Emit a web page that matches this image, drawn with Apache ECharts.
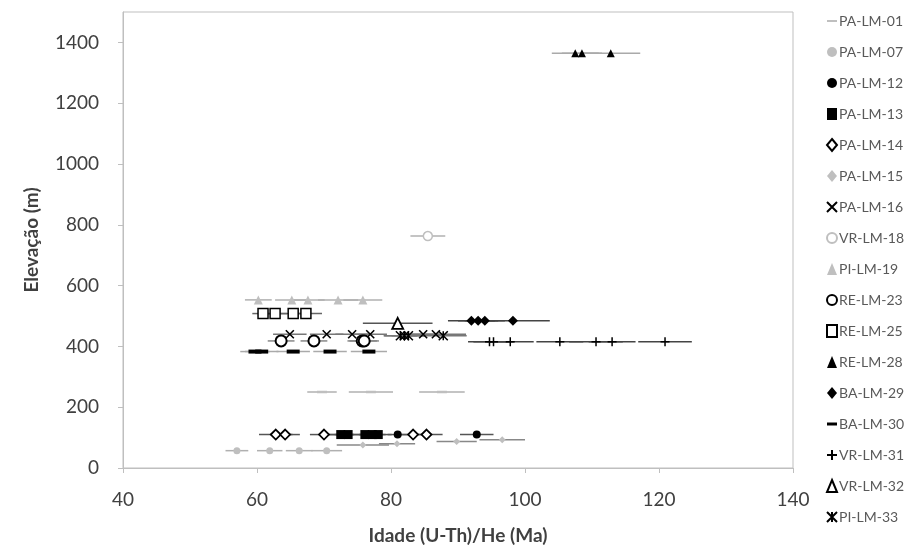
<!DOCTYPE html>
<html>
<head>
<meta charset="utf-8">
<script src="https://cdn.jsdelivr.net/npm/echarts@6/dist/echarts.min.js"></script>
<style>
html,body{margin:0;padding:0;background:#fff;}
#chart{width:918px;height:551px;}
</style>
</head>
<body>
<div id="chart"></div>
<script>
// ---- Data (ages in Ma, horizontal errors in Ma, elevation in m) ----
const xTicks = [40, 60, 80, 100, 120, 140];
const yTicks = [0, 200, 400, 600, 800, 1000, 1200, 1400];

const sampleNames = ['PA-LM-01','PA-LM-07','PA-LM-12','PA-LM-13','PA-LM-14','PA-LM-15','PA-LM-16','VR-LM-18','PI-LM-19','RE-LM-23','RE-LM-25','RE-LM-28','BA-LM-29','BA-LM-30','VR-LM-31','VR-LM-32','PI-LM-33'];
const elevations = [250, 57, 110, 110, 110, [76, 80, 87, 93], 440, 763, 553, 418, 508, 1364, 484, 383, 415, 476, 435];

const age_PA_LM_01 = [69.7, 77.0, 87.6];
const err_PA_LM_01 = [2.2, 3.3, 3.4];
const age_PA_LM_07 = [57.0, 61.9, 66.3, 70.4];
const err_PA_LM_07 = [1.7, 1.9, 2.0, 2.3];
const age_PA_LM_12 = [81.0, 92.8];
const err_PA_LM_12 = [1.5, 2.5];
const age_PA_LM_13 = [72.5, 73.6, 76.1, 77.2, 78.1];
const err_PA_LM_13 = [2.0, 2.0, 2.0, 2.0, 2.0];
const age_PA_LM_14 = [62.8, 64.2, 70.0, 83.3, 85.3];
const err_PA_LM_14 = [2.5, 2.2, 2.1, 2.0, 2.4];
const age_PA_LM_15 = [75.8, 80.9, 89.8, 96.6];
const err_PA_LM_15 = [3.9, 2.7, 3.0, 3.4];
const age_PA_LM_16 = [64.9, 70.4, 74.2, 76.9, 84.8, 86.7];
const err_PA_LM_16 = [2.5, 2.5, 2.5, 2.5, 2.5, 4.5];
const age_VR_LM_18 = [85.5];
const err_VR_LM_18 = [2.6];
const age_PI_LM_19 = [60.2, 65.2, 67.6, 72.1, 75.8];
const err_PI_LM_19 = [2.0, 2.5, 2.5, 3.0, 2.9];
const age_RE_LM_23 = [63.6, 68.5, 75.7, 76.0];
const err_RE_LM_23 = [2.0, 2.0, 2.2, 2.2];
const age_RE_LM_25 = [60.9, 62.7, 65.4, 67.3];
const err_RE_LM_25 = [1.6, 1.8, 2.0, 2.4];
const age_RE_LM_28 = [107.5, 108.5, 112.8];
const err_RE_LM_28 = [3.5, 3.0, 4.4];
const age_BA_LM_29 = [92.0, 93.0, 94.0, 98.2];
const err_BA_LM_29 = [3.5, 3.0, 3.0, 5.5];
const age_BA_LM_30 = [59.7, 60.7, 65.4, 70.9, 76.7];
const err_BA_LM_30 = [2.2, 2.5, 2.5, 2.5, 2.7];
const age_VR_LM_31 = [94.7, 95.3, 97.8, 105.2, 110.6, 113.0, 120.9];
const err_VR_LM_31 = [3.2, 3.0, 3.5, 3.5, 4.0, 3.5, 4.0];
const age_VR_LM_32 = [81.0];
const err_VR_LM_32 = [5.2];
const age_PI_LM_33 = [81.4, 82.0, 82.6, 87.8];
const err_PI_LM_33 = [2.5, 3.0, 2.5, 3.5];

const ages = [age_PA_LM_01, age_PA_LM_07, age_PA_LM_12, age_PA_LM_13, age_PA_LM_14, age_PA_LM_15, age_PA_LM_16, age_VR_LM_18, age_PI_LM_19, age_RE_LM_23, age_RE_LM_25, age_RE_LM_28, age_BA_LM_29, age_BA_LM_30, age_VR_LM_31, age_VR_LM_32, age_PI_LM_33];
const errs = [err_PA_LM_01, err_PA_LM_07, err_PA_LM_12, err_PA_LM_13, err_PA_LM_14, err_PA_LM_15, err_PA_LM_16, err_VR_LM_18, err_PI_LM_19, err_RE_LM_23, err_RE_LM_25, err_RE_LM_28, err_BA_LM_29, err_BA_LM_30, err_VR_LM_31, err_VR_LM_32, err_PI_LM_33];

// ---- Styles ----
const G = '#bfbfbf';
const K = '#000000';
const X_PATH = 'path://M0,0L10,10M10,0L0,10';
const PLUS_PATH = 'path://M5,0L5,10M0,5L10,5';
const STAR_PATH = 'path://M0,0L10,10M10,0L0,10M5,0L5,10';
const styles = [
  {symbol:'rect', size:[10,2.5], item:{color:G}, err:'#b0b0b0', icon:'path://M0,4L10,4L10,6L0,6Z'},
  {symbol:'circle', size:7, item:{color:G}, err:'#b0b0b0'},
  {symbol:'circle', size:8, item:{color:K}, err:'#555'},
  {symbol:'rect', size:9, item:{color:K}, err:'#555'},
  {symbol:'diamond', size:10, item:{color:'#fff', borderColor:K, borderWidth:1.8}, err:'#555'},
  {symbol:'diamond', size:7, item:{color:G}, err:'#888'},
  {symbol:X_PATH, size:8, item:{color:K, borderColor:K, borderWidth:1.6}, err:'#777'},
  {symbol:'circle', size:9, item:{color:'#fff', borderColor:G, borderWidth:1.5}, err:'#b0b0b0'},
  {symbol:'triangle', size:9, item:{color:G}, err:'#b0b0b0'},
  {symbol:'circle', size:11, item:{color:'#fff', borderColor:K, borderWidth:2}, err:'#888'},
  {symbol:'rect', size:10, item:{color:'#fff', borderColor:K, borderWidth:1.5}, err:'#666'},
  {symbol:'triangle', size:8, item:{color:K}, err:'#aaa'},
  {symbol:'diamond', size:10, item:{color:K}, err:'#444'},
  {symbol:'rect', size:[13,4], item:{color:K}, err:'#aaa', icon:'path://M0,3.5L10,3.5L10,6.5L0,6.5Z'},
  {symbol:PLUS_PATH, size:9, item:{color:K, borderColor:K, borderWidth:1.5}, err:'#444'},
  {symbol:'triangle', size:11, item:{color:'#fff', borderColor:K, borderWidth:1.8}, err:'#555'},
  {symbol:STAR_PATH, size:9, item:{color:K, borderColor:K, borderWidth:1.5}, err:'#777'}
];

function elevAt(i, j) {
  const e = elevations[i];
  return Array.isArray(e) ? e[j] : e;
}

const series = [];
// error bars
sampleNames.forEach((name, i) => {
  const st = styles[i];
  series.push({
    name: 'err-' + name,
    type: 'custom',
    z: 1,
    silent: true,
    encode: {x: [0, 1], y: 2},
    data: ages[i].map((a, j) => [a - errs[i][j], a + errs[i][j], elevAt(i, j)]),
    renderItem: function (params, api) {
      const p1 = api.coord([api.value(0), api.value(2)]);
      const p2 = api.coord([api.value(1), api.value(2)]);
      return {type: 'line', shape: {x1: p1[0], y1: p1[1], x2: p2[0], y2: p2[1]},
              style: {stroke: st.err, lineWidth: 1.5}};
    }
  });
});
// markers
sampleNames.forEach((name, i) => {
  const st = styles[i];
  series.push({
    name: name,
    type: 'scatter',
    z: 3,
    symbol: st.symbol,
    symbolSize: st.size,
    symbolKeepAspect: true,
    itemStyle: Object.assign({opacity: 1}, st.item),
    data: ages[i].map((a, j) => [a, elevAt(i, j)])
  });
});

const legendData = sampleNames.map((n, i) => {
  const st = styles[i];
  const o = {name: n};
  if (st.icon) o.icon = st.icon;
  return o;
});

const FONT = 'Lato';
const chart = echarts.init(document.getElementById('chart'), null, {renderer: 'canvas'});
chart.setOption({
  animation: false,
  backgroundColor: '#fff',
  grid: {left: 123, right: 125, top: 12, bottom: 83, show: true, borderColor: '#bfbfbf', borderWidth: 1, backgroundColor: 'transparent'},
  legend: {
    orient: 'vertical',
    left: 826,
    top: 14,
    padding: 0,
    itemWidth: 10,
    itemHeight: 12,
    itemGap: 17,
    data: legendData,
    textStyle: {fontFamily: FONT, fontSize: 14, color: '#595959', padding: [0, 0, 0, -3]},
    inactiveColor: '#ccc'
  },
  xAxis: {
    type: 'value', min: xTicks[0], max: xTicks[xTicks.length - 1], interval: 20,
    name: 'Idade (U-Th)/He (Ma)', nameLocation: 'middle', nameGap: 58,
    nameTextStyle: {fontFamily: FONT, fontSize: 19, fontWeight: 'bold', color: '#404040'},
    axisLine: {show: true, lineStyle: {color: '#bfbfbf', width: 1}},
    axisTick: {show: true, length: 5, lineStyle: {color: '#bfbfbf'}},
    axisLabel: {fontFamily: FONT, fontSize: 19, color: '#404040', margin: 22},
    splitLine: {show: false}
  },
  yAxis: {
    type: 'value', min: 0, max: 1500, interval: 200,
    name: 'Elevação (m)', nameLocation: 'middle', nameGap: 82, nameRotate: 90,
    nameTextStyle: {fontFamily: FONT, fontSize: 19, fontWeight: 'bold', color: '#404040'},
    axisLine: {show: true, lineStyle: {color: '#bfbfbf', width: 1}},
    axisTick: {show: true, length: 5, lineStyle: {color: '#bfbfbf'}},
    axisLabel: {fontFamily: FONT, fontSize: 19, color: '#404040', margin: 24, showMaxLabel: false,
      formatter: function (v) { return yTicks.indexOf(v) >= 0 ? String(v) : ''; }},
    splitLine: {show: false}
  },
  series: series
});
</script>
</body>
</html>
